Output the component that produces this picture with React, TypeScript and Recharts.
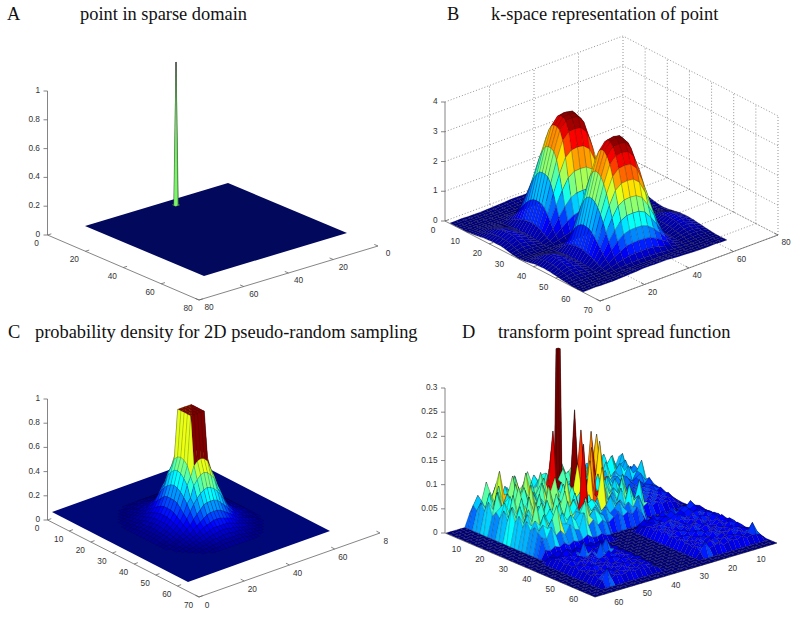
import { ScatterChart, Scatter, XAxis, YAxis } from "recharts";

// heights. A = unit, B and C = hundredths, D = thousandths
const pointPatch = [
  [0, 0, 0],
  [0, 1, 0],
  [0, 0, 0],
];

// k-space surface: left half of every row, the right half is its mirror image
const kspaceHalfRows = [
  [0,0,1,0,0,0,1,2,3,4,6,6,6],
  [0,0,0,0,0,0,1,1,3,4,5,5,5],
  [0,0,0,0,0,0,0,1,2,2,3,3,3],
  [0,0,0,0,0,0,0,0,1,1,1,1,1],
  [0,0,0,0,0,0,0,0,0,0,0,0,0],
  [0,0,0,0,0,0,0,0,1,1,1,1,1],
  [0,0,1,1,0,0,1,2,4,5,6,7,7],
  [1,2,3,2,1,1,3,8,15,21,27,29,29],
  [2,4,5,5,3,1,6,17,32,45,56,60,61],
  [3,6,9,8,5,2,10,29,54,77,96,103,104],
  [5,9,14,12,8,3,16,43,81,115,143,153,155],
  [6,12,18,16,10,4,21,57,107,152,189,203,205],
  [8,15,23,20,13,5,26,72,133,189,236,253,256],
  [9,18,27,24,15,6,30,84,155,221,275,296,299],
  [10,20,30,26,17,7,33,93,172,245,305,328,331],
  [11,21,32,28,18,7,35,99,184,261,325,349,353],
  [11,22,32,29,18,7,36,101,187,266,331,356,360],
  [11,21,32,29,18,7,36,100,186,265,329,354,358],
  [11,21,32,28,18,7,35,98,182,259,322,347,350],
  [10,19,29,25,16,6,32,89,165,235,293,315,318],
  [8,16,24,21,13,5,26,73,136,194,241,259,262],
  [6,12,18,16,10,4,20,55,101,144,179,193,195],
  [4,8,12,10,6,3,13,36,67,95,118,127,128],
  [2,4,6,6,4,1,7,20,36,52,64,69,70],
  [1,2,2,2,1,1,3,7,14,19,24,26,26],
  [0,0,0,0,0,0,0,0,0,0,0,0,0],
  [1,2,3,2,1,1,3,8,15,21,26,28,28],
  [2,5,7,6,4,2,8,22,42,59,74,79,80],
  [4,9,13,12,7,3,15,41,75,107,133,144,145],
  [6,13,19,17,11,4,22,60,112,159,198,213,215],
  [8,17,25,22,14,6,28,77,143,204,253,272,275],
  [10,19,29,26,16,6,32,90,166,237,294,317,320],
  [10,21,31,28,17,7,35,97,181,258,320,345,348],
  [11,22,32,29,18,7,36,101,187,266,331,356,360],
  [11,21,32,29,18,7,36,100,186,265,329,354,358],
  [10,21,31,28,17,7,35,97,179,255,317,342,345],
  [10,19,29,26,16,6,32,90,166,237,294,317,320],
  [8,17,25,23,14,6,28,79,147,209,259,279,282],
  [7,14,21,19,12,5,24,66,123,175,217,234,236],
  [6,11,17,15,9,4,19,52,97,138,171,184,186],
  [4,8,12,11,7,3,14,39,72,102,127,137,138],
  [3,6,8,8,5,2,9,26,49,70,86,93,94],
  [2,3,5,4,3,1,6,16,29,41,52,55,56],
  [1,2,2,2,1,1,3,7,14,19,24,26,26],
  [0,0,1,1,0,0,1,2,4,6,7,8,8],
  [0,0,0,0,0,0,0,0,1,1,1,1,1],
  [0,0,0,0,0,0,0,1,2,2,3,3,3],
  [0,0,0,0,0,0,1,1,3,4,5,5,5],
  [0,0,1,0,0,0,1,2,3,4,6,6,6],
];

// density surface: one quarter of the centre patch, mirrored both ways
const densityQuarter = [
  [92,92,92,56,46,35,25,18,13,9,7,5,3,2,0],
  [92,92,92,55,45,34,25,18,13,9,7,5,3,2,0],
  [92,92,92,52,42,32,24,17,12,9,6,4,3,2,0],
  [56,55,52,44,38,29,21,15,11,8,6,4,3,2,0],
  [46,45,42,38,29,25,18,13,10,7,5,4,2,1,0],
  [35,34,32,29,25,20,15,11,8,6,4,3,2,1,0],
  [25,25,24,21,18,15,11,9,6,5,3,2,1,1,0],
  [18,18,17,15,13,11,9,6,5,4,3,2,1,0,0],
  [13,13,12,11,10,8,6,5,4,3,2,1,1,0,0],
  [9,9,9,8,7,6,5,4,3,2,1,1,0,0,0],
  [7,7,6,6,5,4,3,3,2,1,1,0,0,0,0],
  [5,5,4,4,4,3,2,2,1,1,0,0,0,0,0],
  [3,3,3,3,2,2,1,1,1,0,0,0,0,0,0],
  [2,2,2,2,1,1,1,0,0,0,0,0,0,0,0],
  [0,0,0,0,0,0,0,0,0,0,0,0,0,0,0],
];

const psfRows = [
  [0,0,0,0,0,25,40,32,46,38,52,36,44,58,40,46,34,52,42,60,32,30,48,36,62,40,52,44,58,38,58,42,34,60,36,44,30,52,24,0],
  [0,0,0,0,0,46,64,44,68,50,78,42,60,50,80,44,64,48,72,56,46,38,70,44,78,52,60,48,66,42,62,50,38,72,40,55,34,62,28,0],
  [0,0,0,0,0,38,56,92,52,78,44,72,48,88,56,42,76,50,62,74,38,120,52,85,60,44,90,50,70,46,44,66,42,55,70,38,48,30,36,0],
  [0,0,0,0,0,58,44,74,50,112,60,48,82,44,68,94,50,58,44,80,48,70,60,60,48,95,52,64,46,80,52,40,60,75,44,36,58,34,26,0],
  [0,0,0,0,0,44,78,50,88,48,66,100,52,62,48,76,44,90,56,68,60,46,70,75,88,50,110,46,62,135,46,72,38,48,60,42,34,50,22,0],
  [0,0,0,0,0,66,48,82,44,72,52,62,44,104,60,50,68,48,98,52,72,90,54,48,70,60,46,150,58,44,60,36,52,40,34,56,38,44,28,0],
  [0,0,0,0,0,40,86,54,64,48,92,46,74,52,64,44,88,60,180,76,50,64,42,60,165,58,80,44,130,52,34,48,30,44,36,28,46,65,24,0],
  [0,0,0,0,0,52,60,42,76,50,64,86,48,68,44,80,52,62,48,74,44,72,52,46,38,66,48,60,40,58,40,52,34,46,30,38,44,28,22,0],
  [0,0,0,0,0,42,72,48,58,96,44,60,78,50,90,56,44,74,58,50,60,222,46,70,50,42,75,44,56,38,36,44,30,38,28,34,26,36,20,0],
  [0,0,0,0,0,62,44,88,50,66,48,76,44,64,50,72,100,48,66,78,40,54,90,44,62,48,38,70,46,34,30,38,26,34,24,30,28,24,18,0],
  [0,0,0,0,0,44,70,52,82,44,104,50,68,48,76,46,60,86,44,64,120,60,44,145,52,40,58,42,66,44,34,28,36,24,32,26,30,22,16,0],
  [0,0,0,0,0,74,50,64,46,76,52,86,44,98,50,66,48,58,82,54,70,48,100,40,56,78,44,52,38,60,26,34,22,30,24,28,20,26,14,0],
  [0,0,0,0,0,48,78,44,92,56,68,46,64,50,74,44,108,50,62,70,48,130,56,42,72,38,60,46,82,40,30,24,32,22,28,20,26,18,12,0],
  [0,0,0,0,0,64,46,72,52,60,44,80,50,88,46,62,52,78,44,60,66,40,52,64,44,56,36,80,44,52,24,30,20,28,18,24,16,22,10,0],
  [0,0,0,0,0,44,68,50,64,84,48,60,44,66,94,48,72,44,180,50,44,60,120,40,50,36,66,40,54,36,72,22,28,18,24,16,20,14,8,0],
  [0,0,0,0,0,60,48,94,44,56,72,46,78,48,58,76,46,60,60,66,56,36,46,62,38,48,34,74,38,46,20,26,16,22,14,18,12,10,0,0],
  [0,0,0,0,0,44,62,50,70,46,60,52,44,82,50,64,44,72,48,58,36,48,32,40,52,34,44,30,50,28,0,0,0,0,0,0,0,0,0,0],
  [0,0,0,0,0,54,44,74,48,60,42,68,50,44,62,48,86,46,60,44,30,20,28,36,24,30,22,34,20,0,0,0,0,0,0,0,0,0,0,0],
  [0,0,0,0,0,46,60,50,66,92,52,48,64,50,62,84,50,62,50,44,0,0,0,0,0,0,0,0,0,0,0,0,0,0,0,0,0,0,0,0],
  [0,0,0,0,0,40,34,56,36,44,32,50,38,34,66,36,46,32,40,30,0,0,0,0,0,0,0,0,0,0,0,0,0,0,0,0,0,0,0,0],
  [0,0,0,0,0,18,14,20,16,22,14,20,16,18,24,16,14,18,12,10,0,0,0,0,0,14,20,16,24,18,26,20,30,18,26,22,32,20,16,0],
  [0,0,0,0,0,0,0,0,0,0,0,0,0,0,0,0,0,0,0,0,0,0,0,0,0,12,18,24,16,22,20,28,18,24,30,20,26,18,14,0],
  [0,0,0,0,12,16,20,14,18,12,16,22,14,18,12,16,10,0,0,0,0,0,0,0,0,16,22,14,20,26,18,24,16,22,28,18,24,16,12,0],
  [0,0,0,0,16,12,18,24,14,20,16,12,18,14,20,14,12,0,0,0,0,0,0,0,0,20,14,24,18,22,16,28,20,14,22,26,16,20,14,0],
  [0,0,0,0,14,20,12,16,22,14,18,24,12,16,14,20,10,0,0,0,0,0,0,0,0,14,24,18,26,16,20,22,16,26,18,14,24,18,12,0],
  [0,0,0,0,18,14,22,16,12,40,14,20,16,22,12,16,12,0,0,0,0,0,0,0,0,22,16,20,14,24,18,14,22,16,24,20,14,22,16,0],
  [0,0,0,0,12,18,14,20,16,12,22,14,18,40,16,12,10,0,0,0,0,0,0,0,0,16,22,14,24,18,22,16,20,24,14,18,26,16,12,0],
  [0,0,0,0,16,22,12,18,14,20,14,40,16,12,20,14,12,0,0,0,0,0,0,0,0,24,14,20,16,22,14,24,18,14,22,16,20,24,14,0],
  [0,0,0,0,14,12,20,14,22,16,12,18,24,14,16,12,10,0,0,0,0,0,0,0,0,14,20,24,18,14,26,16,22,20,14,24,16,18,12,0],
  [0,0,0,0,18,16,14,22,12,18,20,14,12,20,14,18,12,0,0,0,0,0,0,0,0,20,16,14,22,18,14,20,24,14,18,22,14,24,16,0],
  [0,0,0,0,12,20,16,12,18,14,16,22,18,12,18,14,10,0,0,0,0,0,0,0,0,14,22,18,14,24,20,14,16,22,16,14,24,18,12,0],
  [0,0,0,0,16,12,22,18,14,20,12,14,20,16,12,16,12,0,0,0,0,0,0,0,0,22,14,20,16,14,22,18,24,14,20,16,14,22,14,0],
  [0,0,0,0,14,18,12,16,22,12,18,16,12,18,14,12,10,0,0,0,0,0,0,0,0,16,20,14,22,18,14,24,16,18,14,24,18,14,12,0],
  [0,0,0,0,12,16,20,14,12,18,14,20,16,12,16,14,8,0,0,0,0,0,0,0,0,18,14,24,16,20,14,16,22,14,24,16,20,16,14,0],
  [0,0,0,0,18,14,16,22,14,12,20,12,18,14,12,16,8,0,0,0,0,0,0,0,0,14,22,16,14,22,18,14,20,16,14,22,14,18,12,0],
  [0,0,0,0,12,20,14,12,18,16,12,16,12,18,14,10,6,0,0,0,0,0,0,0,0,20,14,18,24,14,16,22,14,20,16,14,18,35,14,0],
  [0,0,0,0,14,35,12,18,12,14,18,12,16,12,10,12,6,0,0,0,0,0,0,0,0,12,30,14,16,20,12,16,18,14,20,12,16,14,10,0],
  [0,0,0,0,0,0,0,0,0,0,0,0,0,0,0,0,0,0,0,0,0,0,0,0,0,0,0,0,0,0,0,0,0,0,0,0,0,0,0,0],
  [0,0,0,0,0,0,0,0,0,0,0,0,0,0,0,0,0,0,0,0,0,0,0,0,0,0,0,0,0,0,0,0,0,0,0,0,0,0,0,0],
  [0,0,0,0,0,0,0,0,0,0,0,0,0,0,0,0,0,0,0,0,0,0,0,0,0,0,0,0,0,0,0,0,0,0,0,0,0,0,0,0],
];

// the one tall column of panel D, on a finer cell than the rest
const psfColumn = [
  [0, 0, 0, 0],
  [0, 333, 333, 0],
  [0, 333, 333, 0],
  [0, 0, 0, 0],
];

const zTicksUnit = [0, 0.2, 0.4, 0.6, 0.8, 1];
const zTicksK = [0, 1, 2, 3, 4];
const zTicksPsf = [0, 0.05, 0.1, 0.15, 0.2, 0.25, 0.3];
const ticksBy20 = [0, 20, 40, 60, 80];
const ticksBy10 = [0, 10, 20, 30, 40, 50, 60, 70];
const ticksPsf = [10, 20, 30, 40, 50, 60];

const titles = [
  { text: "A", x: 7, y: 20 },
  { text: "point in sparse domain", x: 80, y: 20 },
  { text: "B", x: 447, y: 20 },
  { text: "k-space representation of point", x: 491, y: 20 },
  { text: "C", x: 8, y: 338 },
  { text: "probability density for 2D pseudo-random sampling", x: 35, y: 338 },
  { text: "D", x: 462, y: 338 },
  { text: "transform point spread function", x: 498, y: 338 },
];

const mirrorFromStart = (r: any[]) => [...r.slice(1).reverse(), ...r];
const mirrorFromEnd = (r: number[]) => [...r, ...r.slice(0, -1).reverse()];
const kspaceRows = kspaceHalfRows.map(mirrorFromEnd);
const densityRows = mirrorFromStart(densityQuarter).map(mirrorFromStart);

const clamp = (v: number) => Math.max(0, Math.min(1, v));
function jet(t: number) {
  const c = (k: number) => Math.round(255 * clamp(1.5 - Math.abs(4 * clamp(t) - k)));
  return `rgb(${c(3)},${c(2)},${c(1)})`;
}

type Pt = [number, number];

function lineMark(pts: Pt[], stroke = "#666", dash?: string, width = 0.8) {
  return {
    x: pts[0][0],
    y: pts[0][1],
    offs: pts.map((p) => [p[0] - pts[0][0], p[1] - pts[0][1]]),
    stroke,
    dash,
    width,
  };
}

function cellMarks(p: any, g: number[][], a0: number, b0: number, da: number, db: number, iFrom = 0, iTo = g.length - 1, fill?: string) {
  const marks: any[] = [];
  const pos = (a: number, b: number, z: number): Pt => [
    p.left[0] + a * p.u[0] + b * p.v[0],
    p.left[1] + a * p.u[1] + b * p.v[1] - z * p.unit * p.zPx,
  ];
  for (let i = iFrom; i < iTo; i++) {
    for (let j = g[0].length - 2; j >= 0; j--) {
      const top = Math.max(g[i][j], g[i + 1][j], g[i + 1][j + 1], g[i][j + 1]);
      if (p.ground && top === 0) continue;
      const c = [
        pos(a0 + i * da, b0 + j * db, g[i][j]),
        pos(a0 + (i + 1) * da, b0 + j * db, g[i + 1][j]),
        pos(a0 + (i + 1) * da, b0 + (j + 1) * db, g[i + 1][j + 1]),
        pos(a0 + i * da, b0 + (j + 1) * db, g[i][j + 1]),
      ];
      const shade = Math.max(g[i][j], (p.shadeTop ?? 0.6) * top);
      marks.push({
        x: c[0][0],
        y: c[0][1],
        offs: c.map((q) => [q[0] - c[0][0], q[1] - c[0][1]]),
        fill: fill ?? p.fill ?? jet((shade * p.unit) / p.cmax),
        stroke: "#000",
        strokeOpacity: p.meshOpacity ?? 0.5,
        width: p.meshWidth ?? 0.4,
      });
    }
  }
  return marks;
}

function surfaceMarks(p: any) {
  const marks: any[] = [];
  if (p.ground) {
    const c: Pt[] = [
      [p.left[0], p.left[1]],
      [p.left[0] + p.u[0], p.left[1] + p.u[1]],
      [p.left[0] + p.u[0] + p.v[0], p.left[1] + p.u[1] + p.v[1]],
      [p.left[0] + p.v[0], p.left[1] + p.v[1]],
    ];
    marks.push({
      x: c[0][0],
      y: c[0][1],
      offs: c.map((q) => [q[0] - c[0][0], q[1] - c[0][1]]),
      fill: p.ground,
      stroke: "none",
    });
  }
  const g = p.grid;
  const a0 = p.a0 ?? 0;
  const b0 = p.b0 ?? 0;
  const da = p.da ?? 1 / (g.length - 1);
  const db = p.db ?? 1 / (g[0].length - 1);
  if (p.column) {
    const k = p.column;
    marks.push(...cellMarks(p, g, a0, b0, da, db, 0, k.afterRow));
    marks.push(...cellMarks(p, k.grid, k.a0, k.b0, k.cell, k.cell, 0, k.grid.length - 1, k.fill));
    marks.push(...cellMarks(p, g, a0, b0, da, db, k.afterRow, g.length - 1));
  } else {
    marks.push(...cellMarks(p, g, a0, b0, da, db));
  }
  return marks;
}

function axisMarks(p: any) {
  const lines: any[] = [];
  const labels: any[] = [];
  const { foot, top, corner, far } = p;
  lines.push(lineMark([top, foot, corner, far]));
  p.zTicks.forEach((v: number) => {
    const y = foot[1] + ((top[1] - foot[1]) * v) / p.zMax;
    lines.push(lineMark([[foot[0] - 4, y], [foot[0], y]]));
    labels.push({ text: String(v), x: foot[0] - 7.5, y: y - 1, anchor: "end" });
  });
  const unitV = [p.v[0] / Math.hypot(p.v[0], p.v[1]), p.v[1] / Math.hypot(p.v[0], p.v[1])];
  const unitU = [p.u[0] / Math.hypot(p.u[0], p.u[1]), p.u[1] / Math.hypot(p.u[0], p.u[1])];
  p.leftTicks.forEach((v: number) => {
    const f = v / p.leftMax;
    const q: Pt = [foot[0] + (corner[0] - foot[0]) * f, foot[1] + (corner[1] - foot[1]) * f];
    lines.push(lineMark([q, [q[0] + unitV[0] * 4, q[1] + unitV[1] * 4]]));
    labels.push({ text: String(v), x: q[0] + p.leftOff[0], y: q[1] + p.leftOff[1], anchor: "middle" });
  });
  p.rightTicks.forEach((v: number) => {
    const f = p.rightFromFar ? v / p.rightMax : 1 - v / p.rightMax;
    const q: Pt = [far[0] + (corner[0] - far[0]) * f, far[1] + (corner[1] - far[1]) * f];
    lines.push(lineMark([q, [q[0] - unitU[0] * 4, q[1] - unitU[1] * 4]]));
    labels.push({
      text: String(v),
      x: q[0] + p.rightOff[0],
      y: q[1] + p.rightOff[1],
      anchor: "middle",
      clipRight: p.clipRight,
    });
  });
  return { lines, labels };
}

// dotted box behind the k-space surface
function wallMarks(p: any) {
  const { foot, corner, far } = p;
  const zh = foot[1] - p.top[1];
  const floor = (a: number, b: number): Pt => [
    foot[0] + a * (corner[0] - foot[0]) + b * (far[0] - corner[0]),
    foot[1] + a * (corner[1] - foot[1]) + b * (far[1] - corner[1]),
  ];
  const up = (q: Pt, z: number): Pt => [q[0], q[1] - z * zh];
  const dot = (pts: Pt[]) => lineMark(pts, "#777", "1 2", 0.8);
  const out: any[] = [];
  [0, 0.25, 0.5, 0.75, 1].forEach((z) => {
    out.push(dot([up(floor(0, 0), z), up(floor(0, 1), z), up(floor(1, 1), z)]));
  });
  [20, 40, 60, 80].forEach((v) => {
    const f = floor(0, v / 80);
    out.push(dot([f, up(f, 1)]));
    out.push(dot([f, floor(1, v / 80)]));
  });
  [10, 20, 30, 40, 50, 60, 70].forEach((v) => {
    const f = floor(v / 70, 1);
    out.push(dot([f, up(f, 1)]));
    out.push(dot([floor(v / 70, 0), f]));
  });
  return out;
}

const panelA = {
  left: [85, 226], u: [119, 50], v: [143, -43], zPx: 143, unit: 1, cmax: 1,
  ground: "#02085c", grid: pointPatch, a0: 0.074 - 1 / 64, b0: 0.575 - 1 / 64, da: 1 / 64, db: 1 / 64,
  fill: "#7df26c", meshOpacity: 0.55, meshWidth: 0.4,
  foot: [47.5, 235], top: [47.5, 91], corner: [199, 300], far: [378, 246], zMax: 1,
  zTicks: zTicksUnit, leftTicks: ticksBy20, leftMax: 80, leftOff: [-11, 8],
  rightTicks: ticksBy20, rightMax: 80, rightFromFar: true, rightOff: [10, 7],
};
const panelB = {
  left: [450, 223], u: [133, 69], v: [144, -52], zPx: 30, unit: 0.01, cmax: 3.6,
  grid: kspaceRows, meshOpacity: 0.5, meshWidth: 0.35,
  foot: [445, 221], top: [445, 102], corner: [600, 301], far: [778, 235], zMax: 4,
  zTicks: zTicksK, leftTicks: ticksBy10, leftMax: 70, leftOff: [-12, 9],
  rightTicks: ticksBy20, rightMax: 80, rightFromFar: false, rightOff: [8, 7],
};
const panelC = {
  left: [52, 512], u: [136, 70], v: [142, -51], zPx: 121, unit: 0.01, cmax: 0.92,
  ground: "#000878", grid: densityRows, a0: 1 / 6, b0: 1 / 6, da: 1 / 42, db: 1 / 42,
  meshOpacity: 0.4, meshWidth: 0.35,
  foot: [47.5, 520], top: [47.5, 399], corner: [199, 597], far: [380, 533], zMax: 1,
  zTicks: zTicksUnit, leftTicks: ticksBy10, leftMax: 70, leftOff: [-10.5, 8],
  rightTicks: ticksBy20, rightMax: 80, rightFromFar: false, rightOff: [8, 8], clipRight: 388,
};
const panelD = {
  left: [446, 533], u: [149, 64], v: [182, -54], zPx: 483, unit: 0.001, cmax: 0.16, shadeTop: 0.8,
  grid: psfRows, meshOpacity: 0.45, meshWidth: 0.4,
  column: { grid: psfColumn, afterRow: 4, a0: 0.072, b0: 0.523, cell: 1 / 80, fill: "#7a0000" },
  foot: [445, 533], top: [445, 388], corner: [595, 597], far: [777, 543], zMax: 0.3,
  zTicks: zTicksPsf, leftTicks: ticksPsf, leftMax: 64, leftOff: [-12, 6],
  rightTicks: ticksPsf, rightMax: 64, rightFromFar: true, rightOff: [12.5, 8],
};
const panels = [panelA, panelB, panelC, panelD];

const wallData = wallMarks(panelB);
const axisData = panels.map(axisMarks);
const surfaceData = panels.map(surfaceMarks);

const Facet = (props: any) => {
  const { cx, cy, payload: m } = props;
  const pts = m.offs.map((o: number[]) => `${cx + o[0]},${cy + o[1]}`).join(" ");
  return (
    <polygon
      points={pts}
      fill={m.fill}
      stroke={m.stroke}
      strokeOpacity={m.strokeOpacity}
      strokeWidth={m.width}
      strokeLinejoin="round"
    />
  );
};

const Stroke = (props: any) => {
  const { cx, cy, payload: m } = props;
  const pts = m.offs.map((o: number[]) => `${cx + o[0]},${cy + o[1]}`).join(" ");
  return <polyline points={pts} fill="none" stroke={m.stroke} strokeWidth={m.width} strokeDasharray={m.dash} />;
};

const TickText = (props: any) => {
  const { cx, cy, payload: m } = props;
  const font = { fontFamily: "Liberation Sans", fontSize: 8.3, fill: "#333" };
  if (m.clipRight && cx + 5 > m.clipRight) {
    return (
      <svg x={cx - 10} y={cy - 10} width={m.clipRight - cx + 10} height={20} overflow="hidden">
        <text x={10} y={10} textAnchor={m.anchor} dominantBaseline="central" {...font}>
          {m.text}
        </text>
      </svg>
    );
  }
  return (
    <text x={cx} y={cy} textAnchor={m.anchor} dominantBaseline="central" {...font}>
      {m.text}
    </text>
  );
};

const TitleText = (props: any) => {
  const { cx, cy, payload: m } = props;
  return (
    <text x={cx} y={cy} fontFamily="Liberation Serif" fontSize={18.4} fill="#111">
      {m.text}
    </text>
  );
};

export default function App() {
  return (
    <div style={{ position: "absolute", left: 0, top: 0, width: 800, height: 617, background: "#fff", overflow: "hidden" }}>
      <ScatterChart width={800} height={617} margin={{ top: 0, right: 0, bottom: 0, left: 0 }}>
        <XAxis type="number" dataKey="x" domain={[0, 800]} hide allowDataOverflow />
        <YAxis type="number" dataKey="y" domain={[0, 617]} reversed hide allowDataOverflow />
        <Scatter data={wallData} shape={Stroke} isAnimationActive={false} />
        {axisData.map((a, i) => (
          <Scatter key={`axis${i}`} data={a.lines} shape={Stroke} isAnimationActive={false} />
        ))}
        {surfaceData.map((s, i) => (
          <Scatter key={`surface${i}`} data={s} shape={Facet} isAnimationActive={false} />
        ))}
        {axisData.map((a, i) => (
          <Scatter key={`labels${i}`} data={a.labels} shape={TickText} isAnimationActive={false} />
        ))}
        <Scatter data={titles} shape={TitleText} isAnimationActive={false} />
      </ScatterChart>
    </div>
  );
}
